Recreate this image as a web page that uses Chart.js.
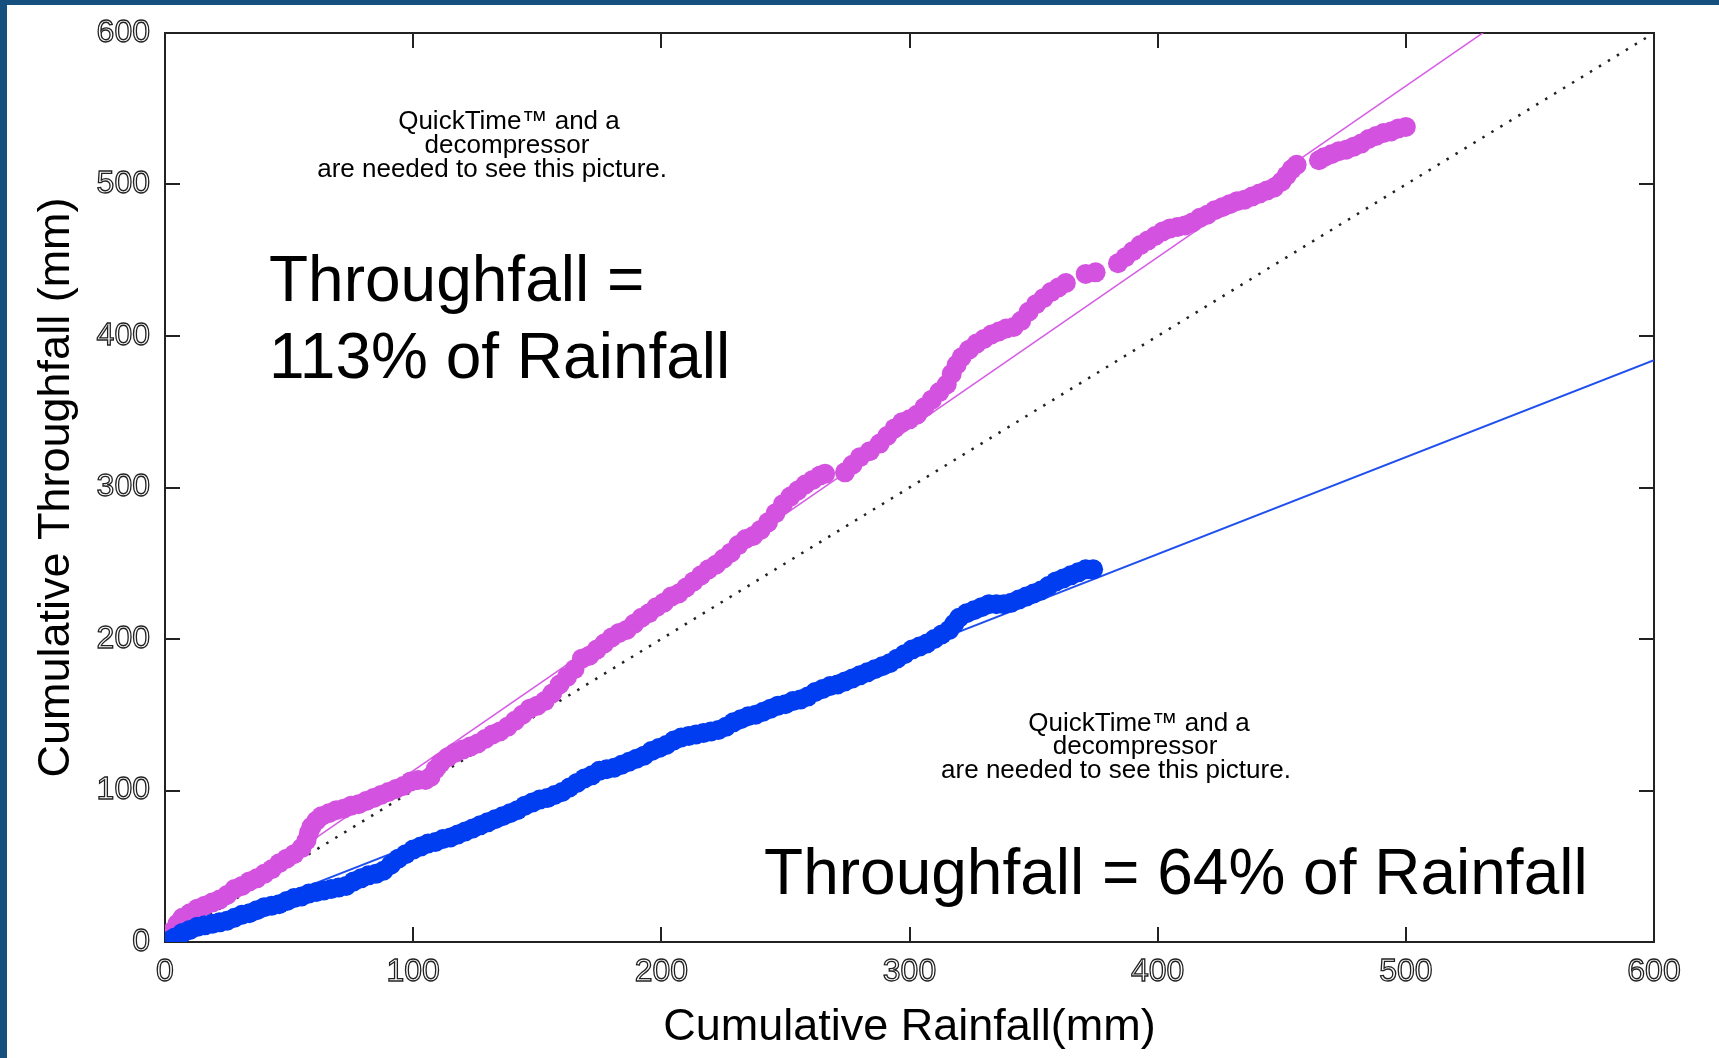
<!DOCTYPE html>
<html>
<head>
<meta charset="utf-8">
<title>Cumulative Throughfall vs Rainfall</title>
<script src="https://cdn.jsdelivr.net/npm/chart.js@4.4.0/dist/chart.umd.min.js"></script>
<style>
  html, body { margin: 0; padding: 0; background: #fff; overflow: hidden; }
  #frame {
    position: absolute; left: 0; top: 0;
    width: 1712px; height: 1053px;
    border-left: 7px solid #15507f;
    border-top: 5px solid #15507f;
    background: #fff;
  }
  canvas { display: block; }
</style>
</head>
<body>
<div id="frame"><canvas id="myChart" width="1712" height="1053"></canvas></div>
<script>
// cumulative rainfall (x) and cumulative throughfall (y), mm
const rainfallHigh = [1, 3, 5, 7, 10, 13, 16, 19, 22, 25, 28, 31, 34, 37, 40, 43, 46, 49, 52, 55,
  57, 58, 59, 61, 63, 66, 69, 72, 75, 78, 81, 84, 87, 90, 93, 96, 99, 102, 105, 107,
  109, 111, 114, 117, 120, 123, 126, 129, 132, 135, 138, 141, 144, 147, 150, 153, 156, 159, 162, 165,
  168, 171, 174, 177, 180, 183, 186, 189, 192, 195, 198, 201, 204, 207, 210, 213, 216, 219, 222, 225,
  228, 231, 234, 237, 240, 243, 246, 249, 252, 255, 258, 261, 264, 266, 274, 277, 280, 284, 288, 291,
  294, 297, 300, 303, 306, 309, 312, 315, 317, 319, 321, 324, 327, 330, 333, 336, 339, 342, 345, 348,
  351, 354, 357, 360, 363, 371, 375, 384, 387, 390, 393, 396, 399, 402, 405, 408, 411, 414, 417, 420,
  423, 426, 429, 432, 435, 438, 441, 444, 447, 450, 452, 454, 456, 465, 467, 470, 473, 476, 479, 482,
  485, 488, 491, 494, 497, 500];
const throughfallHigh = [3, 7, 12, 16, 19, 22, 24, 26, 28, 31, 35, 37, 40, 42, 45, 48, 52, 55, 58, 62,
  67, 72, 76, 80, 83, 85, 87, 88, 90, 91, 93, 95, 97, 99, 101, 103, 106, 107, 107, 109,
  114, 118, 122, 125, 127, 129, 131, 134, 137, 139, 142, 146, 150, 154, 156, 159, 164, 170, 175, 180,
  187, 189, 193, 197, 201, 204, 206, 210, 214, 217, 221, 224, 228, 230, 234, 238, 242, 246, 249, 253,
  257, 262, 266, 268, 272, 277, 283, 289, 294, 298, 302, 305, 308, 309, 310, 315, 320, 324, 329, 334,
  339, 343, 345, 348, 353, 358, 363, 368, 375, 381, 386, 391, 395, 398, 401, 403, 405, 406, 410, 416,
  421, 425, 429, 432, 435, 441, 442, 448, 452, 456, 460, 463, 466, 469, 471, 472, 473, 475, 478, 480,
  483, 485, 487, 489, 490, 492, 494, 496, 498, 502, 506, 510, 513, 516, 518, 520, 522, 523, 525, 527,
  530, 532, 534, 535, 537, 538];

const rainfallLow = [2, 4, 7, 10, 13, 16, 19, 22, 25, 28, 31, 34, 37, 40, 43, 46, 49, 52, 55, 58,
  61, 64, 67, 70, 73, 76, 79, 82, 85, 88, 91, 94, 97, 100, 103, 106, 109, 112, 115, 118,
  121, 124, 127, 130, 133, 136, 139, 142, 145, 148, 151, 154, 157, 160, 163, 166, 169, 172, 175, 178,
  181, 184, 187, 190, 193, 196, 199, 202, 205, 208, 211, 214, 217, 220, 223, 226, 229, 232, 235, 238,
  241, 244, 247, 250, 253, 256, 259, 262, 265, 268, 271, 274, 277, 280, 283, 286, 289, 292, 295, 298,
  301, 304, 307, 310, 313, 316, 318, 320, 323, 326, 329, 332, 335, 338, 341, 344, 347, 350, 353, 356,
  359, 362, 365, 368, 371, 374];
const throughfallLow = [1, 3, 6, 8, 10, 11, 12, 13, 14, 16, 18, 19, 21, 23, 24, 25, 27, 29, 30, 32,
  33, 34, 35, 36, 37, 40, 42, 44, 45, 47, 51, 55, 58, 61, 63, 65, 66, 68, 69, 71,
  73, 75, 77, 79, 81, 83, 85, 87, 90, 92, 94, 95, 97, 99, 102, 105, 108, 110, 113, 114,
  115, 117, 119, 121, 123, 126, 128, 130, 133, 135, 136, 137, 138, 139, 140, 142, 145, 147, 149, 150,
  152, 154, 156, 157, 159, 160, 162, 165, 167, 169, 170, 172, 174, 176, 178, 180, 182, 184, 187, 190,
  193, 195, 197, 200, 203, 206, 210, 214, 217, 219, 221, 223, 223, 223, 224, 226, 228, 230, 232, 235,
  238, 240, 242, 244, 246, 246];

// throughfall as a percentage of rainfall (regression slopes)
const fitPercent = [113, 64];
const axisTicks = [0, 100, 200, 300, 400, 500, 600];

const FONT = '"Liberation Sans", Arial, Helvetica, sans-serif';
const AXIS_COLOR = '#222';

function toPoints(xs, ys) {
  return xs.map((v, i) => ({ x: v, y: ys[i] }));
}

// straight line through the origin with the given percentage slope
function fitLine(pct) {
  return [{ x: 0, y: 0 }, { x: 600, y: 600 * pct / 100 }];
}

const placeholder = ['QuickTime\u2122 and a', 'decompressor', 'are needed to see this picture.'];

// text placed on the plot: one x per line, first baseline y, in data units
const captions = [
  { xs: [138.6, 137.8, 131.8], y: 536.5, size: 26, align: 'center', gap: 23.7, lines: placeholder },
  { xs: [392.5, 390.9, 383.2], y: 139.5, size: 26, align: 'center', gap: 23.7, lines: placeholder },
  { xs: [41.9, 41.9], y: 422.8, size: 64, align: 'left', gap: 76.7,
    lines: ['Throughfall =', fitPercent[0] + '% of Rainfall'] },
  { xs: [241.4], y: 32, size: 64, align: 'left', gap: 0,
    lines: ['Throughfall = ' + fitPercent[1] + '% of Rainfall'] },
];

const captionPlugin = {
  id: 'captions',
  afterDraw(chart) {
    const { ctx, scales: { x, y } } = chart;
    ctx.save();
    ctx.fillStyle = '#000';
    ctx.textBaseline = 'alphabetic';
    captions.forEach(c => {
      ctx.font = c.size + 'px ' + FONT;
      ctx.textAlign = c.align;
      const py = y.getPixelForValue(c.y);
      c.lines.forEach((line, i) => {
        ctx.fillText(line, x.getPixelForValue(c.xs[i]), py + i * c.gap);
      });
    });
    ctx.restore();
  }
};

// keep the end labels from pushing the plot box around
function noLabelPadding(s) {
  s.paddingTop = 0;
  s.paddingBottom = 0;
  s.paddingLeft = 0;
  s.paddingRight = 0;
}

// shared look for all four box sides: inward ticks, no grid inside
function boxAxis(position, extra) {
  return Object.assign({
    type: 'linear',
    position: position,
    min: 0,
    max: 600,
    afterBuildTicks: s => { s.ticks = axisTicks.map(v => ({ value: v })); },
    grid: {
      display: true,
      drawOnChartArea: false,
      drawTicks: true,
      tickLength: -15,
      color: AXIS_COLOR,
      lineWidth: 2,
    },
    border: { display: true, color: AXIS_COLOR, width: 2 },
  }, extra);
}

const tickFont = { family: FONT, size: 32 };
const outlinedTicks = {
  display: true,
  font: tickFont,
  color: 'rgba(0,0,0,0)',
  textStrokeColor: '#222',
  textStrokeWidth: 1.3,
};

const config = {
  type: 'scatter',
  data: {
    datasets: [
      {
        label: 'Throughfall 64%',
        data: toPoints(rainfallLow, throughfallLow),
        backgroundColor: '#003cf0',
        borderWidth: 0,
        pointRadius: 10,
        order: 0,
      },
      {
        label: 'Throughfall 113%',
        data: toPoints(rainfallHigh, throughfallHigh),
        backgroundColor: '#d452e0',
        borderWidth: 0,
        pointRadius: 10,
        order: 1,
      },
      {
        type: 'line',
        label: 'fit 113%',
        data: fitLine(fitPercent[0]),
        borderColor: '#d65be5',
        borderWidth: 1.5,
        pointRadius: 0,
        order: 2,
      },
      {
        type: 'line',
        label: 'fit 64%',
        data: fitLine(fitPercent[1]),
        borderColor: '#1f4fef',
        borderWidth: 2,
        pointRadius: 0,
        order: 2,
      },
      {
        type: 'line',
        label: '1:1',
        data: [{ x: 0, y: 0 }, { x: 600, y: 600 }],
        borderColor: '#222',
        borderWidth: 2.5,
        borderDash: [2.5, 8],
        borderCapStyle: 'butt',
        pointRadius: 0,
        order: 3,
      },
    ],
  },
  options: {
    responsive: false,
    devicePixelRatio: 1,
    animation: false,
    events: [],
    layout: { padding: { top: 28, right: 65, left: 0, bottom: 0 } },
    plugins: {
      legend: { display: false },
      tooltip: { enabled: false },
    },
    scales: {
      x: boxAxis('bottom', {
        ticks: Object.assign({ padding: 26 }, outlinedTicks),
        title: {
          display: true,
          text: 'Cumulative Rainfall(mm)',
          color: '#000',
          font: { family: FONT, size: 45 },
          padding: { top: 0, bottom: 3 },
        },
        afterFit: s => { s.height = 116; noLabelPadding(s); },
      }),
      y: boxAxis('left', {
        ticks: Object.assign({ padding: 30 }, outlinedTicks),
        title: {
          display: true,
          text: 'Cumulative Throughfall (mm)',
          color: '#000',
          font: { family: FONT, size: 45 },
          padding: { top: 23, bottom: 0 },
        },
        afterFit: s => { s.width = 158; noLabelPadding(s); },
      }),
      x2: boxAxis('top', {
        ticks: { display: false },
        afterFit: s => { s.height = 0; noLabelPadding(s); },
      }),
      y2: boxAxis('right', {
        ticks: { display: false },
        afterFit: s => { s.width = 0; noLabelPadding(s); },
      }),
    },
  },
  plugins: [captionPlugin],
};

const myChart = new Chart(document.getElementById('myChart'), config);
</script>
</body>
</html>
